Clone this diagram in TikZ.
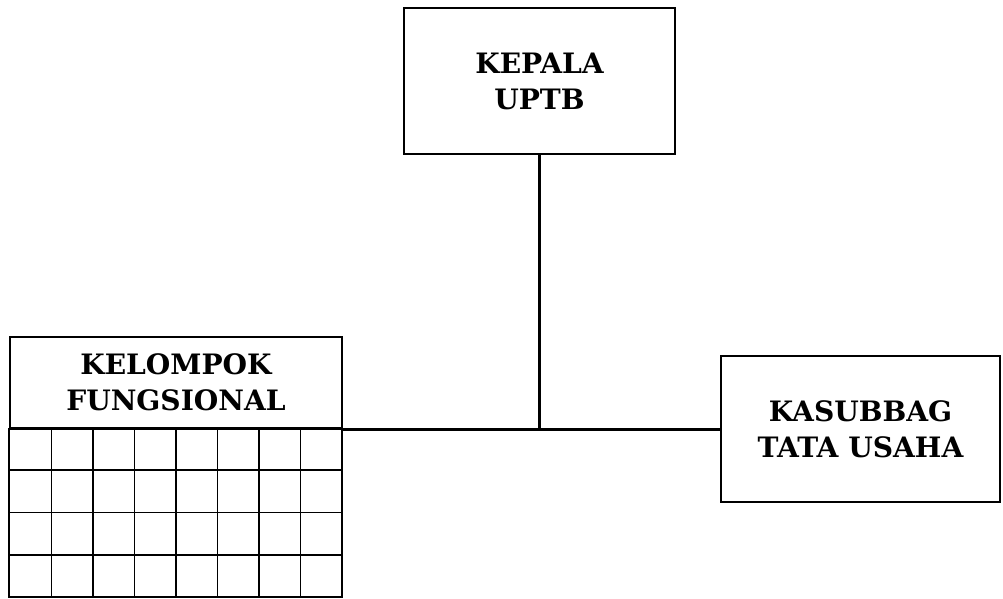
\documentclass[tikz,border=0pt]{standalone}
\usepackage{fontspec}
\setmainfont{DejaVu Serif}
\usepackage{tikz}
\tikzset{
  unitbox/.style={draw=black,line width=1.2pt,rectangle,inner sep=0pt,align=center,
    font=\fontsize{16}{20.5}\selectfont\bfseries},
  gridline/.style={draw=black,line width=1.1pt},
  link/.style={draw=black,line width=1.7pt},
}
\begin{document}
\begin{tikzpicture}[x=0.02cm,y=-0.02cm]
  \useasboundingbox (0,0) rectangle (1003,598);
  \node[unitbox,minimum width=5.42cm,minimum height=2.92cm] (kepala) at (539.5,81) {KEPALA\\UPTB};
  \node[unitbox,minimum width=5.58cm,minimum height=2.92cm] (kasubbag) at (860.5,429) {KASUBBAG\\TATA USAHA};
  \node[unitbox,minimum width=6.64cm,minimum height=1.82cm] (fungsi) at (176,382.5) {KELOMPOK\\FUNGSIONAL};
  % grid under the header
  \draw[gridline] (fungsi.south west) rectangle (342,597);
  \foreach \i in {1,...,7}
    \draw[gridline] (10+41.5*\i,428) -- (10+41.5*\i,597);
  \foreach \j in {1,2,3}
    \draw[gridline] (10,428+42.25*\j) -- (342,428+42.25*\j);
  % connectors
  \coordinate (junction) at (kepala.south |- fungsi.south east);
  \draw[link] (kepala.south) -- (junction);
  \draw[link] (fungsi.south east) -- (fungsi.south east -| kasubbag.west);
\end{tikzpicture}
\end{document}
